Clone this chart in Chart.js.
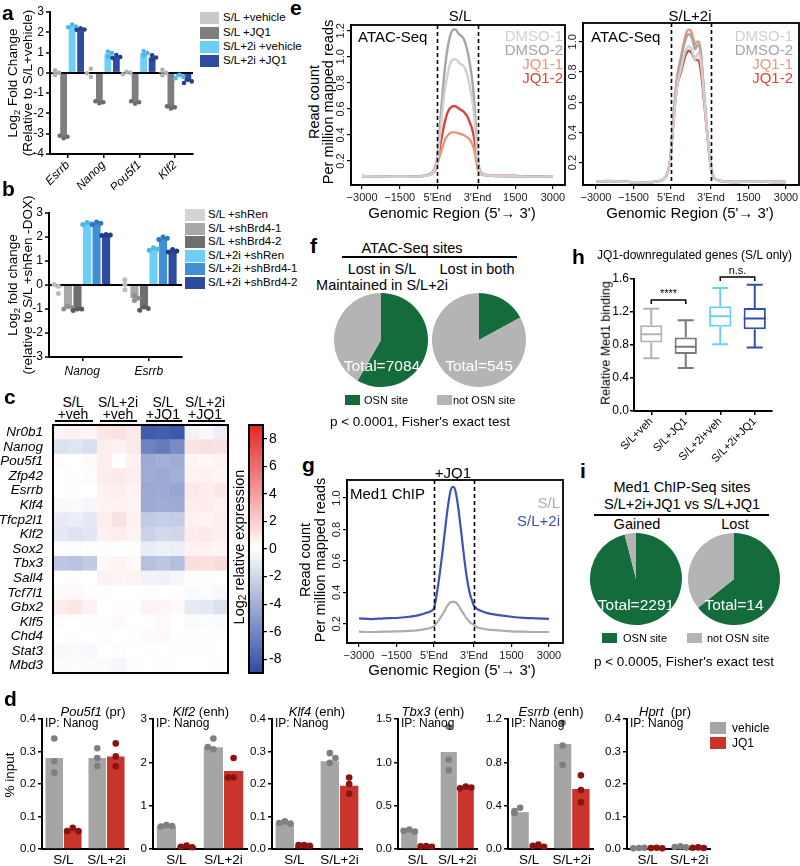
<!DOCTYPE html>
<html><head><meta charset="utf-8">
<script src="https://cdn.jsdelivr.net/npm/chart.js@4.4.1/dist/chart.umd.min.js"></script>
<style>
html,body{margin:0;padding:0;background:#fff;}
#fig{position:relative;width:800px;height:866px;overflow:hidden;font-family:"Liberation Sans",Arial,Helvetica,sans-serif;color:#000;background:#fff;}
canvas{position:absolute;}
.t{position:absolute;white-space:nowrap;line-height:1;}
.t sub{font-size:0.7em;vertical-align:-0.25em;line-height:0;}
.sw{position:absolute;}
</style></head><body><div id="fig"></div>
<script>
// ================= DATA =================
// Panel a
const aGenes = ['Esrrb','Nanog','Pou5f1','Klf2'];
const aSeries = ['S/L +vehicle','S/L +JQ1','S/L+2i +vehicle','S/L+2i +JQ1'];
const aSLveh = [0.01, 0.0, 0.0, 0.01];
const aSLjq1 = [-3.15, -1.45, -1.45, -1.7];
const a2iVeh = [2.3, 0.95, 0.98, -0.18];
const a2iJq1 = [2.15, 0.8, 0.76, -0.42];
const aSLvehReps = [[0.12,-0.1,0.0],[0.2,-0.2,-0.02],[0.05,-0.07,0.0],[0.15,-0.12,0.0]];
const aSLjq1Reps = [[-3.22,-3.1,-3.15],[-1.5,-1.4,-1.45],[-1.52,-1.4,-1.45],[-1.76,-1.65,-1.7]];
const a2iVehReps = [[2.38,2.25,2.28],[1.05,0.8,0.98],[1.08,0.87,0.98],[-0.1,-0.26,-0.2]];
const a2iJq1Reps = [[2.2,2.12,2.14],[0.88,0.74,0.78],[0.86,0.65,0.76],[-0.34,-0.5,-0.42]];
const aTicks = [-4,-3,-2,-1,0,1,2,3];

// Panel b
const bGenes = ['Nanog','Esrrb'];
const bSeries = ['S/L +shRen','S/L +shBrd4-1','S/L +shBrd4-2','S/L+2i +shRen','S/L+2i +shBrd4-1','S/L+2i +shBrd4-2'];
const bSLshRen = [-0.1, 0.0];
const bSLsh1 = [-0.95, -0.55];
const bSLsh2 = [-1.02, -0.98];
const b2iShRen = [2.55, 1.5];
const b2iSh1 = [2.57, 1.95];
const b2iSh2 = [2.08, 1.42];
const bSLshRenReps = [[-0.05,-0.35,0.02],[0.22,-0.2,0.02]];
const bSLsh1Reps = [[-0.9,-1.0,-0.95],[-0.45,-0.65,-0.55]];
const bSLsh2Reps = [[-1.0,-1.06,-1.0],[-0.92,-1.05,-0.98]];
const b2iShRenReps = [[2.6,2.52,2.55],[1.55,1.45,1.5]];
const b2iSh1Reps = [[2.62,2.52,2.57],[2.0,1.9,1.95]];
const b2iSh2Reps = [[2.1,2.06,2.08],[1.48,1.38,1.42]];
const bTicks = [-3,-2,-1,0,1,2,3];

// Panel c (log2 relative expression, 3 replicates per condition)
const cGenes = ['Nr0b1','Nanog','Pou5f1','Zfp42','Esrrb','Klf4','Tfcp2l1','Klf2','Sox2','Tbx3','Sall4','Tcf7l1','Gbx2','Klf5','Chd4','Stat3','Mbd3'];
const cCondTop = ['S/L','S/L+2i','S/L','S/L+2i'];
const cCondBottom = ['+veh','+veh','+JQ1','+JQ1'];
const cSLveh = [[0.5,0.6,0.4],[-1.5,-1.3,-1.6],[0.1,0.0,0.2],[0.0,0.1,-0.1],[0.0,0.1,0.0],[-0.3,-0.2,-0.4],[-1.0,-0.8,-1.1],[-1.1,-1.4,-1.2],[0.0,-0.1,0.0],[-2.8,-3.0,-2.6],[0.0,0.1,0.0],[0.2,0.3,0.1],[0.8,1.0,0.6],[0.1,0.0,0.1],[0.0,0.1,0.0],[-0.3,-0.2,-0.3],[-0.2,-0.1,-0.2]];
const cSL2iVeh = [[1.0,1.2,0.9],[0.7,0.6,0.9],[0.7,0.1,0.6],[0.8,0.9,0.7],[0.6,0.7,0.5],[0.5,0.6,0.4],[0.7,1.2,0.6],[0.6,0.7,0.5],[0.1,0.0,0.1],[0.3,0.5,0.2],[0.6,0.4,0.5],[0.1,0.0,0.0],[0.0,0.1,-0.1],[0.1,0.2,0.0],[0.1,0.0,0.1],[0.0,-0.1,0.0],[-0.2,-0.4,-0.1]];
const cSLjq1 = [[-8.2,-8.0,-8.3],[-6.2,-6.6,-5.8],[-4.2,-4.0,-4.1],[-4.1,-4.3,-4.0],[-4.3,-4.2,-4.4],[-4.3,-4.1,-4.2],[-2.6,-2.4,-2.5],[-2.2,-1.9,-2.0],[-0.9,-0.7,-0.8],[-3.1,-2.8,-3.2],[-0.6,-0.7,-0.4],[0.1,0.0,0.1],[0.5,0.4,0.2],[0.1,0.2,0.0],[0.2,0.3,0.1],[0.1,0.0,0.1],[0.0,0.1,0.0]];
const cSL2iJq1 = [[-0.6,-0.3,-0.8],[1.1,1.3,1.2],[0.4,0.3,0.5],[0.5,0.6,0.4],[0.9,0.8,1.0],[0.7,0.8,0.6],[0.6,0.5,0.7],[0.8,0.9,0.7],[0.5,0.6,0.4],[1.4,1.3,1.5],[0.0,0.1,0.0],[-0.2,-0.1,-0.3],[-1.0,-1.1,-1.5],[-0.2,-0.1,-0.2],[0.1,0.0,0.1],[0.1,0.1,0.0],[0.0,0.0,0.1]];
const cBarTicks = [-8,-6,-4,-2,0,2,4,6,8];

// Panel d (ChIP-qPCR, % input)
const dGenes = ['Pou5f1','Klf2','Klf4','Tbx3','Esrrb','Hprt'];
const dRegion = ['(pr)','(enh)','(enh)','(enh)','(enh)','&nbsp;(pr)'];
const dCats = ['S/L','S/L+2i'];
const dVeh = [[0.28,0.28],[0.53,2.35],[0.08,0.27],[0.22,1.12],[0.34,0.97],[0.003,0.006]];
const dJQ1 = [[0.06,0.285],[0.06,1.8],[0.01,0.195],[0.03,0.715],[0.03,0.554],[0.003,0.004]];
const dVehReps = [[[0.34,0.27,0.235],[0.31,0.28,0.255]],[[0.55,0.52,0.53],[2.55,2.3,2.35]],[[0.085,0.08,0.078],[0.295,0.265,0.28]],[[0.225,0.21,0.2],[1.41,1.03,0.91]],[[0.38,0.35,0.33],[1.166,0.955,0.775]],[[0.003,0.002,0.004],[0.008,0.006,0.005]]];
const dJQ1Reps = [[[0.065,0.055,0.055],[0.325,0.285,0.255]],[[0.08,0.05,0.04],[2.1,1.65,1.65]],[[0.012,0.012,0.01],[0.22,0.17,0.2]],[[0.035,0.03,0.025],[0.72,0.7,0.71]],[[0.04,0.03,0.02],[0.68,0.545,0.43]],[[0.004,0.003,0.002],[0.005,0.004,0.003]]];
const dMax = [0.4,3,0.4,1.5,1.2,0.4];
const dTicks = [[0,0.1,0.2,0.3,0.4],[0,1,2,3],[0,0.1,0.2,0.3,0.4],[0,0.5,1,1.5],[0,0.4,0.8,1.2],[0,0.1,0.2,0.3,0.4]];
const dDec = [1,0,1,1,1,1];

// Panel e (ATAC-seq metaprofiles); x: bp upstream <0, gene body 0..1600, downstream >1600
const eX = [-3000,-2500,-2000,-1500,-1000,-600,-300,-150,-50,0,80,160,240,320,400,480,560,640,720,800,880,960,1040,1120,1200,1280,1360,1440,1520,1560,1600,1650,1720,1850,2100,2600,3100,3600,4100,4600];
const eSeries = ['DMSO-1','DMSO-2','JQ1-1','JQ1-2'];
const eSL_DMSO1 = [0.084,0.082,0.08,0.078,0.08,0.084,0.096,0.12,0.16,0.21,0.35,0.51,0.66,0.78,0.86,0.93,0.97,0.98,0.98,0.97,0.95,0.94,0.93,0.9,0.85,0.78,0.7,0.59,0.42,0.3,0.21,0.14,0.11,0.096,0.088,0.084,0.084,0.08,0.08,0.082];
const eSL_DMSO2 = [0.085,0.083,0.08,0.078,0.08,0.085,0.1,0.13,0.18,0.24,0.42,0.62,0.8,0.95,1.06,1.14,1.19,1.21,1.21,1.19,1.17,1.16,1.14,1.1,1.04,0.96,0.86,0.72,0.5,0.36,0.24,0.16,0.12,0.1,0.09,0.085,0.085,0.08,0.08,0.082];
const eSL_JQ1_1 = [0.085,0.083,0.08,0.078,0.08,0.084,0.095,0.11,0.14,0.18,0.23,0.28,0.33,0.37,0.395,0.41,0.42,0.42,0.42,0.415,0.41,0.405,0.4,0.39,0.38,0.365,0.34,0.3,0.23,0.18,0.14,0.115,0.1,0.092,0.087,0.085,0.085,0.082,0.082,0.084];
const eSL_JQ1_2 = [0.085,0.083,0.08,0.078,0.08,0.085,0.098,0.12,0.15,0.2,0.28,0.37,0.45,0.52,0.57,0.6,0.615,0.62,0.62,0.61,0.6,0.59,0.58,0.56,0.54,0.5,0.46,0.4,0.3,0.24,0.18,0.13,0.11,0.095,0.088,0.085,0.085,0.082,0.082,0.084];
const e2i_DMSO1 = [0.075,0.077,0.075,0.07,0.068,0.074,0.09,0.125,0.19,0.27,0.43,0.58,0.7,0.77,0.82,0.88,0.93,0.96,0.97,0.96,0.92,0.88,0.91,0.93,0.86,0.72,0.56,0.41,0.27,0.21,0.16,0.125,0.1,0.085,0.076,0.072,0.074,0.075,0.072,0.072];
const e2i_DMSO2 = [0.075,0.078,0.075,0.07,0.068,0.075,0.09,0.13,0.2,0.28,0.45,0.62,0.75,0.82,0.88,0.95,1.0,1.04,1.05,1.04,1.0,0.95,0.97,0.98,0.9,0.75,0.58,0.42,0.28,0.22,0.17,0.13,0.1,0.085,0.075,0.072,0.075,0.075,0.072,0.072];
const e2i_JQ1_1 = [0.076,0.078,0.076,0.071,0.069,0.075,0.09,0.13,0.2,0.28,0.46,0.63,0.76,0.84,0.9,0.97,1.03,1.07,1.08,1.07,1.03,0.98,1.0,1.0,0.92,0.76,0.58,0.42,0.28,0.22,0.17,0.13,0.1,0.086,0.076,0.073,0.075,0.076,0.073,0.073];
const e2i_JQ1_2 = [0.075,0.077,0.075,0.07,0.068,0.074,0.09,0.125,0.19,0.27,0.43,0.58,0.7,0.76,0.8,0.85,0.9,0.93,0.94,0.93,0.91,0.88,0.88,0.87,0.8,0.68,0.54,0.4,0.27,0.21,0.16,0.125,0.1,0.085,0.075,0.072,0.074,0.075,0.072,0.072];
const eXTicks = [-3000,-1500,0,1600,3100,4600];
const eXLabels = ['\u22123000','\u22121500',"5'End","3'End",'1500','3000'];
const eLeftYTicks = [0.2,0.4,0.6,0.8,1.0,1.2];
const eRightYTicks = [0.2,0.4,0.6,0.8,1.0];
const bodyEnd = 1600;

// Panel f (ATAC-seq sites, OSN / not OSN)
const osnLabels = ['OSN site','not OSN site'];
const fLostSL = [4130, 2954];
const fLostBoth = [93, 452];

// Panel g (Med1 ChIP +JQ1)
const gSeries = ['S/L','S/L+2i'];
const gSL = [0.15,0.148,0.15,0.152,0.155,0.16,0.168,0.173,0.18,0.185,0.2,0.215,0.235,0.255,0.275,0.3,0.32,0.335,0.34,0.34,0.335,0.32,0.3,0.28,0.26,0.24,0.225,0.21,0.2,0.197,0.193,0.185,0.178,0.172,0.165,0.158,0.152,0.15,0.148,0.148];
const g2i = [0.235,0.23,0.235,0.237,0.245,0.255,0.27,0.278,0.288,0.3,0.36,0.44,0.53,0.63,0.74,0.85,0.95,1.03,1.07,1.07,1.03,0.95,0.85,0.74,0.63,0.53,0.45,0.39,0.35,0.33,0.315,0.305,0.295,0.285,0.27,0.255,0.245,0.238,0.235,0.232];
const gYTicks = [0.2,0.4,0.6,0.8,1.0];

// Panel h (box plots, relative Med1 binding)
const hGroups = ['S/L+veh','S/L+JQ1','S/L+2i+veh','S/L+2i+JQ1'];
const hMin = [0.64,0.52,0.81,0.77];
const hQ1 = [0.83,0.69,1.02,0.99];
const hMed = [0.93,0.78,1.15,1.12];
const hQ3 = [1.04,0.89,1.27,1.25];
const hMax = [1.24,1.1,1.49,1.53];
const hTicks = [0,0.4,0.8,1.2,1.6];
const hSigPairs = [[0,1],[2,3]];
const hSigLabels = ['****','n.s.'];
const hSigLevel = [1.345,1.624];

// Panel i (Med1 ChIP-seq sites)
const iGained = [2200, 91];
const iLost = [9, 5];

// ================= STYLE / HELPERS =================
const FONT = '"Liberation Sans", Arial, Helvetica, sans-serif';
Chart.defaults.font.family = FONT;
Chart.defaults.font.size = 12;
Chart.defaults.color = '#000';
Chart.defaults.animation = false;
Chart.defaults.plugins.legend.display = false;
Chart.defaults.plugins.tooltip.enabled = false;

const GREEN = '#146b3c', PGRAY = '#b4b4b4';
const aCol = ['#c9c9c9','#7e7e7e','#6ccff6','#2e4c9f'];
const aDot = ['#b0b0b0','#6a6a6a','#4fb6e6','#243f8c'];
const bCol = ['#d4d4d4','#a8a8a8','#6f6f6f','#6ccff6','#3f8fd4','#2c4a9e'];
const bDot = ['#bcbcbc','#8e8e8e','#5a5a5a','#4fb6e6','#2f78bf','#223d88'];
const eCol = ['#d0d0d0','#a6a6a6','#ec9480','#d5463a'];
const gCol = ['#adadad','#3f52b5'];
const hCol = ['#b3b3b3','#7a7a7a','#6ccff6','#3350a8'];

const fig = document.getElementById('fig');
function txt(s, x, y, o = {}) {
  const d = document.createElement('div');
  d.className = 't';
  d.innerHTML = s;
  d.style.left = x + 'px'; d.style.top = y + 'px';
  d.style.fontSize = (o.size || 13) + 'px';
  if (o.bold) d.style.fontWeight = 'bold';
  if (o.italic) d.style.fontStyle = 'italic';
  if (o.color) d.style.color = o.color;
  const ax = o.align === 'left' ? '0%' : o.align === 'right' ? '-100%' : '-50%';
  d.style.transform = 'translate(' + ax + ',-50%)' + (o.rot ? ' rotate(' + o.rot + 'deg)' : '');
  fig.appendChild(d);
}
function sw(x, yc, w, h, color) {
  const d = document.createElement('div'); d.className = 'sw';
  Object.assign(d.style, {left: x + 'px', top: (yc - h / 2) + 'px', width: w + 'px', height: h + 'px', background: color});
  fig.appendChild(d);
}
function hline(x1, x2, y, w) { sw(x1, y, x2 - x1, w || 1.5, '#000'); }
function mk(x, y, w, h, cfg) {
  const c = document.createElement('canvas');
  c.width = w; c.height = h;
  Object.assign(c.style, {left: x + 'px', top: y + 'px', width: w + 'px', height: h + 'px'});
  fig.appendChild(c);
  cfg.options = cfg.options || {};
  cfg.options.responsive = false;
  cfg.options.maintainAspectRatio = false;
  cfg.options.devicePixelRatio = 1;
  cfg.options.animation = false;
  return new Chart(c, cfg);
}
const zeroP = s => { s.paddingTop = 0; s.paddingBottom = 0; s.paddingLeft = 0; s.paddingRight = 0; };
const fixW = w => s => { s.width = w; zeroP(s); };
const fixH = h => s => { s.height = h; zeroP(s); };
const setTicks = arr => s => { s.ticks = arr.map(v => ({value: v})); };
const zc = c => (c.tick && c.tick.value === 0) ? '#000' : 'rgba(0,0,0,0)';
const zw = c => (c.tick && c.tick.value === 0) ? 2 : 0;

// replicate dots on bars
const dotsP = {
  id: 'reps',
  afterDatasetsDraw(chart) {
    const ctx = chart.ctx;
    chart.data.datasets.forEach((ds, i) => {
      if (!ds.reps) return;
      const meta = chart.getDatasetMeta(i);
      const yS = chart.scales[meta.yAxisID];
      meta.data.forEach((bar, j) => {
        const placed = [];
        (ds.reps[j] || []).forEach(v => {
          const py = yS.getPixelForValue(v);
          const r = ds.dotR || 2.5;
          let cnt = placed.filter(p => Math.abs(p - py) < r * 1.6).length;
          const dx = cnt ? (cnt % 2 ? -1 : 1) * Math.ceil(cnt / 2) * r * 1.7 : 0;
          placed.push(py);
          ctx.beginPath(); ctx.arc(bar.x + dx, py, r, 0, Math.PI * 2);
          ctx.fillStyle = ds.dotColor; ctx.fill();
        });
      });
    });
  }
};
const frameP = w => ({id: 'frame', afterDraw(chart) {
  const a = chart.chartArea, ctx = chart.ctx;
  ctx.save(); ctx.strokeStyle = '#000'; ctx.lineWidth = w;
  ctx.strokeRect(a.left, a.top, a.right - a.left, a.bottom - a.top); ctx.restore();
}});
const dashP = xs => ({id: 'dash', afterDatasetsDraw(chart) {
  const a = chart.chartArea, ctx = chart.ctx, xS = chart.scales.x;
  ctx.save(); ctx.strokeStyle = '#000'; ctx.lineWidth = 1.6; ctx.setLineDash([4, 3]);
  xs.forEach(v => { const px = Math.round(xS.getPixelForValue(v)) + 0.5; ctx.beginPath(); ctx.moveTo(px, a.top); ctx.lineTo(px, a.bottom); ctx.stroke(); });
  ctx.restore();
}});
const rotYP = {id: 'rotY', afterDraw(chart) {
  const yS = chart.scales.y, ctx = chart.ctx;
  ctx.save(); ctx.font = '11px ' + FONT; ctx.fillStyle = '#222'; ctx.textAlign = 'center'; ctx.textBaseline = 'bottom';
  yS.ticks.forEach(t => {
    const py = yS.getPixelForValue(t.value);
    ctx.save(); ctx.translate(yS.right - 5, py); ctx.rotate(-Math.PI / 2); ctx.fillText(t.value.toFixed(1), 0, 0); ctx.restore();
  });
  ctx.restore();
}};

// ================= PANEL a =================
mk(0, 0, 200, 190, {
  type: 'bar',
  data: {labels: aGenes, datasets: [
    {label: aSeries[0], data: aSLveh, backgroundColor: aCol[0], reps: aSLvehReps, dotColor: aDot[0], dotR: 2.3},
    {label: aSeries[1], data: aSLjq1, backgroundColor: aCol[1], reps: aSLjq1Reps, dotColor: aDot[1], dotR: 2.3},
    {label: aSeries[2], data: a2iVeh, backgroundColor: aCol[2], reps: a2iVehReps, dotColor: aDot[2], dotR: 2.3},
    {label: aSeries[3], data: a2iJq1, backgroundColor: aCol[3], reps: a2iJq1Reps, dotColor: aDot[3], dotR: 2.3}
  ]},
  options: {
    layout: {padding: {top: 12, right: 7, left: 0, bottom: 0}},
    datasets: {bar: {categoryPercentage: 0.95, barPercentage: 0.8}},
    scales: {
      x: {grid: {offset: false, drawOnChartArea: false, tickLength: 4, color: '#000', lineWidth: 1.5}, border: {color: '#000', width: 2},
          ticks: {minRotation: 45, maxRotation: 45, autoSkip: false, padding: 0, font: {size: 12, style: 'italic'}}, afterFit: fixH(36)},
      y: {min: -4, max: 3, afterBuildTicks: setTicks(aTicks), ticks: {font: {size: 12}, padding: 2},
          grid: {color: zc, lineWidth: zw, tickColor: '#000', tickWidth: 1.5, tickLength: 4}, border: {color: '#000', width: 2}, afterFit: fixW(50)}
    }
  },
  plugins: [dotsP]
});

// ================= PANEL b =================
mk(0, 195, 185, 190, {
  type: 'bar',
  data: {labels: bGenes, datasets: [
    {label: bSeries[0], data: bSLshRen, backgroundColor: bCol[0], reps: bSLshRenReps, dotColor: bDot[0]},
    {label: bSeries[1], data: bSLsh1, backgroundColor: bCol[1], reps: bSLsh1Reps, dotColor: bDot[1]},
    {label: bSeries[2], data: bSLsh2, backgroundColor: bCol[2], reps: bSLsh2Reps, dotColor: bDot[2]},
    {label: bSeries[3], data: b2iShRen, backgroundColor: bCol[3], reps: b2iShRenReps, dotColor: bDot[3]},
    {label: bSeries[4], data: b2iSh1, backgroundColor: bCol[4], reps: b2iSh1Reps, dotColor: bDot[4]},
    {label: bSeries[5], data: b2iSh2, backgroundColor: bCol[5], reps: b2iSh2Reps, dotColor: bDot[5]}
  ]},
  options: {
    layout: {padding: {top: 18, right: 3, left: 0, bottom: 0}},
    datasets: {bar: {categoryPercentage: 0.86, barPercentage: 0.85}},
    scales: {
      x: {grid: {offset: false, drawOnChartArea: false, tickLength: 4, color: '#000', lineWidth: 1.5}, border: {color: '#000', width: 2},
          ticks: {maxRotation: 0, autoSkip: false, padding: 3, font: {size: 12, style: 'italic'}}, afterFit: fixH(28)},
      y: {min: -3, max: 3, afterBuildTicks: setTicks(bTicks), ticks: {font: {size: 12}, padding: 2},
          grid: {color: zc, lineWidth: zw, tickColor: '#000', tickWidth: 1.5, tickLength: 4}, border: {color: '#000', width: 2}, afterFit: fixW(49)}
    }
  },
  plugins: [dotsP]
});

// ================= PANEL c (heatmap) =================
function cmap(v) {
  const t = Math.max(-1, Math.min(1, v / 9));
  let r, g, b;
  if (t < 0) { const k = -t; r = 255 + (45 - 255) * k; g = 255 + (75 - 255) * k; b = 255 + (162 - 255) * k; }
  else { const k = t; r = 255 + (226 - 255) * k; g = 255 + (38 - 255) * k; b = 255 + (38 - 255) * k; }
  return 'rgb(' + Math.round(r) + ',' + Math.round(g) + ',' + Math.round(b) + ')';
}
const cConds = [cSLveh, cSL2iVeh, cSLjq1, cSL2iJq1];
const cDatasets = [];
cConds.forEach(cond => {
  for (let rep = 0; rep < 3; rep++) {
    cDatasets.push({data: cGenes.map(() => 1), backgroundColor: cGenes.map((g, gi) => cmap(cond[gi][rep])), barPercentage: 1, categoryPercentage: 1, borderWidth: 0});
  }
});
mk(0, 420, 232, 258, {
  type: 'bar',
  data: {labels: cGenes, datasets: cDatasets},
  options: {
    indexAxis: 'y',
    layout: {padding: {top: 5, bottom: 5, right: 4, left: 0}},
    scales: {
      x: {stacked: true, min: 0, max: 12, display: false},
      y: {stacked: true, grid: {display: false}, border: {display: false}, ticks: {autoSkip: false, padding: 2, font: {size: 13.5, style: 'italic'}}, afterFit: fixW(53)}
    }
  },
  plugins: [frameP(2)]
});
// colour bar
mk(245, 420, 45, 258, {
  type: 'bar',
  data: {labels: [''], datasets: [{data: [[-9, 9]], barPercentage: 1, categoryPercentage: 1, borderWidth: 0,
    backgroundColor: (ctx) => {
      const ca = ctx.chart.chartArea; if (!ca) return '#fff';
      const gr = ctx.chart.ctx.createLinearGradient(0, ca.bottom, 0, ca.top);
      gr.addColorStop(0, cmap(-9)); gr.addColorStop(0.5, cmap(0)); gr.addColorStop(1, cmap(9));
      return gr;
    }}]},
  options: {
    layout: {padding: {top: 5, bottom: 5, left: 4, right: 0}},
    scales: {
      x: {display: false},
      y: {position: 'right', min: -9, max: 9, afterBuildTicks: setTicks(cBarTicks), ticks: {font: {size: 14}, padding: 2},
          grid: {drawOnChartArea: false, tickLength: 4, color: '#000', lineWidth: 1.2}, border: {display: false}, afterFit: fixW(27)}
    }
  },
  plugins: [frameP(2)]
});

// ================= PANEL d =================
const dAxL = [42, 153, 272, 398, 508, 627];
const dAxR = [128, 247, 362, 477, 593, 710];
dGenes.forEach((g, i) => {
  const yw = 40;
  mk(dAxL[i] - yw, 700, dAxR[i] - dAxL[i] + yw + 2, 166, {
    type: 'bar',
    data: {labels: dCats, datasets: [
      {label: 'vehicle', data: dVeh[i], backgroundColor: '#a5a5a5', reps: dVehReps[i], dotColor: '#7f7f7f', dotR: 3.3},
      {label: 'JQ1', data: dJQ1[i], backgroundColor: '#c9352d', reps: dJQ1Reps[i], dotColor: '#8c1212', dotR: 3.3}
    ]},
    options: {
      layout: {padding: {top: 19, right: 2, left: 0, bottom: 0}},
      datasets: {bar: {categoryPercentage: 0.86, barPercentage: 0.95}},
      scales: {
        x: {grid: {display: false, drawTicks: false}, border: {color: '#000', width: 2}, ticks: {autoSkip: false, maxRotation: 0, padding: 3, font: {size: 13.5}}, afterFit: fixH(17)},
        y: {min: 0, max: dMax[i], afterBuildTicks: setTicks(dTicks[i]), ticks: {font: {size: 11.5}, padding: 2, callback: v => Number(v).toFixed(dDec[i])},
            grid: {drawOnChartArea: false, tickLength: 4, color: '#000', lineWidth: 1.5}, border: {color: '#000', width: 2}, afterFit: fixW(yw)}
      }
    },
    plugins: [dotsP]
  });
});

// ================= PANEL e =================
function lineChart(x, y, w, h, pad, yw, xh, xmin, xmax, ymin, ymax, yticks, series, colors, lw) {
  return mk(x, y, w, h, {
    type: 'line',
    data: {datasets: series.map((s, k) => ({data: eX.map((xv, j) => ({x: xv, y: s[j]})), borderColor: colors[k], borderWidth: lw, pointRadius: 0, cubicInterpolationMode: 'monotone', fill: false}))},
    options: {
      layout: {padding: pad},
      scales: {
        x: {type: 'linear', min: xmin, max: xmax, afterBuildTicks: setTicks(eXTicks),
            ticks: {autoSkip: false, maxRotation: 0, padding: 2, color: '#222', font: {size: 11}, callback: v => eXLabels[eXTicks.indexOf(v)]},
            grid: {drawOnChartArea: false, tickLength: 4, color: '#000', lineWidth: 1.2}, border: {color: '#000', width: 1.5}, afterFit: fixH(xh)},
        y: {min: ymin, max: ymax, afterBuildTicks: setTicks(yticks), ticks: {display: false},
            grid: {drawOnChartArea: false, tickLength: 4, color: '#000', lineWidth: 1.2}, border: {color: '#000', width: 1.5}, afterFit: fixW(yw)}
      }
    },
    plugins: [dashP([0, bodyEnd]), frameP(1.8), rotYP]
  });
}
lineChart(330, 20, 240, 205, {top: 5, right: 5, left: 0, bottom: 0}, 21, 40, -3440, 5080, 0.016, 1.244, eLeftYTicks,
  [eSL_DMSO1, eSL_DMSO2, eSL_JQ1_1, eSL_JQ1_2], eCol, 2.4);
lineChart(562, 18, 238, 207, {top: 5, right: 1, left: 0, bottom: 0}, 21, 40, -3520, 5120, 0.052, 1.124, eRightYTicks,
  [e2i_DMSO1, e2i_DMSO2, e2i_JQ1_1, e2i_JQ1_2], eCol, 2.4);

// ================= PANEL g =================
lineChart(325, 475, 242, 190, {top: 5, right: 4, left: 0, bottom: 0}, 22, 22, -3480, 5160, 0.078, 1.115, gYTicks,
  [gSL, g2i], gCol, 2.2);

// ================= PANELS f & i (pies) =================
function pie(x, y, s, data) {
  mk(x, y, s, s, {
    type: 'pie',
    data: {labels: osnLabels, datasets: [{data: data, backgroundColor: [GREEN, PGRAY], borderWidth: 0, hoverOffset: 0, offset: 0}]},
    options: {layout: {padding: 0}}
  });
}
pie(334, 293, 94, fLostSL);
pie(432, 293, 94, fLostBoth);
pie(590, 533, 92, iGained);
pie(688, 533, 92, iLost);

// ================= PANEL h (box plot) =================
const boxP = {id: 'boxw', afterDatasetsDraw(chart) {
  const ctx = chart.ctx, yS = chart.scales.y, meta = chart.getDatasetMeta(0);
  meta.data.forEach((b, i) => {
    const hw = b.width / 2, x = b.x, cw = hw * 0.72;
    const yMin = yS.getPixelForValue(hMin[i]), yMax = yS.getPixelForValue(hMax[i]);
    const yQ1 = yS.getPixelForValue(hQ1[i]), yQ3 = yS.getPixelForValue(hQ3[i]), yMd = yS.getPixelForValue(hMed[i]);
    ctx.save(); ctx.strokeStyle = hCol[i]; ctx.lineWidth = 2;
    ctx.beginPath();
    ctx.moveTo(x - hw, yMd); ctx.lineTo(x + hw, yMd);
    ctx.moveTo(x, yQ3); ctx.lineTo(x, yMax);
    ctx.moveTo(x, yQ1); ctx.lineTo(x, yMin);
    ctx.moveTo(x - cw, yMax); ctx.lineTo(x + cw, yMax);
    ctx.moveTo(x - cw, yMin); ctx.lineTo(x + cw, yMin);
    ctx.stroke(); ctx.restore();
  });
}};
const sigP = {id: 'sig', afterDraw(chart) {
  const ctx = chart.ctx, meta = chart.getDatasetMeta(0), yS = chart.scales.y;
  ctx.save(); ctx.strokeStyle = '#000'; ctx.lineWidth = 1.5; ctx.fillStyle = '#000';
  ctx.font = '11px ' + FONT; ctx.textAlign = 'center'; ctx.textBaseline = 'bottom';
  hSigPairs.forEach((p, k) => {
    const x1 = meta.data[p[0]].x, x2 = meta.data[p[1]].x, y = yS.getPixelForValue(hSigLevel[k]);
    ctx.beginPath(); ctx.moveTo(x1, y + 4); ctx.lineTo(x1, y); ctx.lineTo(x2, y); ctx.lineTo(x2, y + 4); ctx.stroke();
    ctx.fillText(hSigLabels[k], (x1 + x2) / 2, y - 1);
  });
  ctx.restore();
}};
mk(590, 265, 190, 205, {
  type: 'bar',
  data: {labels: hGroups, datasets: [{data: hQ1.map((q, i) => [q, hQ3[i]]), backgroundColor: '#fff', borderColor: hCol, borderWidth: 2, borderSkipped: false}]},
  options: {
    layout: {padding: {top: 14, right: 8, left: 0, bottom: 0}},
    datasets: {bar: {categoryPercentage: 0.7, barPercentage: 0.92}},
    scales: {
      x: {grid: {offset: false, drawOnChartArea: false, tickLength: 4, color: '#000', lineWidth: 1.5}, border: {color: '#000', width: 2},
          ticks: {minRotation: 45, maxRotation: 45, autoSkip: false, padding: 0, font: {size: 11}}, afterFit: fixH(59)},
      y: {min: 0, max: 1.6, afterBuildTicks: setTicks(hTicks), ticks: {font: {size: 12}, padding: 1, callback: v => Number(v).toFixed(1)},
          grid: {drawOnChartArea: false, tickLength: 4, color: '#000', lineWidth: 1.5}, border: {color: '#000', width: 2}, afterFit: fixW(44)}
    }
  },
  plugins: [boxP, sigP]
});

// ================= TEXT OVERLAYS =================
// panel letters
txt('a', 2, 12, {bold: true, size: 21, align: 'left'});
txt('b', 2, 188, {bold: true, size: 21, align: 'left'});
txt('c', 4, 396, {bold: true, size: 21, align: 'left'});
txt('d', 4, 698, {bold: true, size: 21, align: 'left'});
txt('e', 290, 7, {bold: true, size: 21, align: 'left'});
txt('f', 310, 245, {bold: true, size: 21, align: 'left'});
txt('g', 302, 464, {bold: true, size: 21, align: 'left'});
txt('h', 572, 256, {bold: true, size: 21, align: 'left'});
txt('i', 580, 470, {bold: true, size: 21, align: 'left'});

// a
txt('Log<sub>2</sub> Fold Change', 13, 83, {size: 13.5, rot: -90});
txt('(Relative to S/L+vehicle)', 28, 83, {size: 13.5, rot: -90});
[18, 33, 47, 61].forEach((y, k) => { sw(200, y, 19, 12, aCol[k]); txt(aSeries[k], 223, y, {size: 11.5, align: 'left'}); });
// b
txt('Log<sub>2</sub> fold change', 13, 285, {size: 13.5, rot: -90});
txt('(relative to S/L +shRen -DOX)', 28, 285, {size: 13.5, rot: -90});
[215, 229, 242, 256, 269, 283].forEach((y, k) => { sw(185, y, 20, 12, bCol[k]); txt(bSeries[k], 208, y, {size: 11.5, align: 'left'}); });
// c
const cHeadX = [73, 118, 163, 205];
const cLine = [[55, 93], [100, 137], [146, 182], [188, 225]];
cHeadX.forEach((x, k) => { txt(cCondTop[k], x, 402, {size: 14}); txt(cCondBottom[k], x, 414, {size: 14}); hline(cLine[k][0], cLine[k][1], 421, 1.5); });
txt('Log<sub>2</sub> relative expression', 239, 547, {size: 14.5, rot: -90});
// d
const dTitleX = [93, 201, 317, 433, 551, 665];
dGenes.forEach((g, i) => {
  txt('<i>' + g + '</i> ' + dRegion[i], dTitleX[i], 711, {size: 13});
  txt('IP: Nanog', dAxL[i] + 3, 723, {size: 12, align: 'left'});
});
txt('% input', 10, 775, {size: 13.5, rot: -90});
sw(710, 728, 16, 12, '#a5a5a5'); txt('vehicle', 732, 728, {size: 12, align: 'left'});
sw(710, 743, 16, 12, '#c9352d'); txt('JQ1', 732, 743, {size: 12, align: 'left'});
// e
txt('S/L', 460, 15, {size: 15});
txt('S/L+2i', 690, 15, {size: 15});
txt('ATAC-Seq', 358, 36, {size: 15, align: 'left'});
txt('ATAC-Seq', 591, 36, {size: 15, align: 'left'});
[35, 49, 63, 77].forEach((y, k) => { txt(eSeries[k], 563, y, {size: 15, align: 'right', color: eCol[k]}); txt(eSeries[k], 793, y, {size: 15, align: 'right', color: eCol[k]}); });
txt("Genomic Region (5'\u2192 3')", 452, 212, {size: 15});
txt("Genomic Region (5'\u2192 3')", 690, 212, {size: 15});
txt('Read count', 314, 102, {size: 14.5, rot: -90});
txt('Per million mapped reads', 328, 102, {size: 14.5, rot: -90});
// f
txt('ATAC-Seq sites', 412, 248, {size: 14.5});
hline(342, 517, 257, 1.5);
txt('Lost in S/L', 382, 269, {size: 14.5});
txt('Lost in both', 477, 269, {size: 14.5});
txt('Maintained in S/L+2i', 382, 285, {size: 14.5});
txt('Total=7084', 382, 366, {size: 15.5, color: '#fff'});
txt('Total=545', 479, 366, {size: 15.5, color: '#fff'});
sw(345, 400, 15, 10, GREEN); txt(osnLabels[0], 364, 400, {size: 11, align: 'left'});
sw(437, 400, 15, 10, PGRAY); txt(osnLabels[1], 453, 400, {size: 11, align: 'left'});
txt("p &lt; 0.0001, Fisher's exact test", 420, 422, {size: 13.5});
// g
txt('+JQ1', 453, 472, {size: 15});
txt('Med1 ChIP', 350, 493, {size: 15, align: 'left'});
txt(gSeries[0], 560, 502, {size: 15, align: 'right', color: gCol[0]});
txt(gSeries[1], 560, 520, {size: 15, align: 'right', color: gCol[1]});
txt("Genomic Region (5'\u2192 3')", 452, 669, {size: 15});
txt('Read count', 305, 560, {size: 14.5, rot: -90});
txt('Per million mapped reads', 320, 560, {size: 14.5, rot: -90});
// h
txt('JQ1-downregulated genes (S/L only)', 597, 255, {size: 12, align: 'left'});
txt('Relative Med1 binding', 606, 343, {size: 12.5, rot: -90});
// i
txt('Med1 ChIP-Seq sites', 682, 487, {size: 14.5});
txt('S/L+2i+JQ1 vs S/L+JQ1', 682, 504, {size: 14.5});
hline(594, 769, 515, 1.5);
txt('Gained', 637, 524, {size: 14.5});
txt('Lost', 735, 524, {size: 14.5});
txt('Total=2291', 636, 605, {size: 15.5, color: '#fff'});
txt('Total=14', 734, 605, {size: 15.5, color: '#fff'});
sw(602, 638, 15, 10, GREEN); txt(osnLabels[0], 623, 638, {size: 11, align: 'left'});
sw(687, 638, 15, 10, PGRAY); txt(osnLabels[1], 707, 638, {size: 11, align: 'left'});
txt("p &lt; 0.0005, Fisher's exact test", 684, 662, {size: 13.5});
</script></body></html>
